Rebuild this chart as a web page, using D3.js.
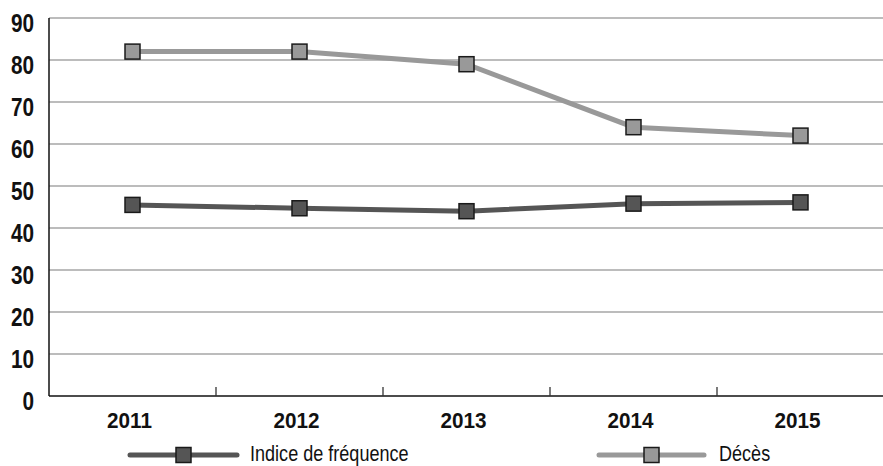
<!DOCTYPE html>
<html>
<head>
<meta charset="utf-8">
<script src="https://cdn.jsdelivr.net/npm/d3@7"></script>
<style>
  html, body { margin: 0; padding: 0; background: #fff; }
  svg { display: block; }
  text { font-family: "Liberation Sans", Arial, sans-serif; }
</style>
</head>
<body>
<svg id="chart" width="883" height="466"></svg>
<script>
const years = ["2011", "2012", "2013", "2014", "2015"];
const indiceFrequence = [45.5, 44.7, 44.0, 45.8, 46.1];
const deces = [82, 82, 79, 64, 62];
const yTicks = [0, 10, 20, 30, 40, 50, 60, 70, 80, 90];
const seriesNames = ["Indice de fréquence", "Décès"];
const seriesColors = ["#555555", "#999999"];

const svg = d3.select("#chart");
const W = 883;
const left = 49, plotRight = 884;

const x = d3.scaleBand().domain(years).range([left, plotRight]).paddingInner(0).paddingOuter(0);
const y = d3.scaleLinear().domain([0, 90]).range([396, 18]);

// condensed text: horizontally squeezed glyphs
function condensed(sel, sx) {
  return sel.attr("transform", function () {
    const px = +this.getAttribute("data-x"), py = +this.getAttribute("data-y");
    return `translate(${px},${py}) scale(${sx},1)`;
  });
}

// horizontal gridlines
svg.append("g")
  .selectAll("line")
  .data(yTicks.filter(d => d > 0))
  .join("line")
  .attr("x1", left).attr("x2", W)
  .attr("y1", d => y(d)).attr("y2", d => y(d))
  .attr("stroke", "#a6a6a6").attr("stroke-width", 1.3);

// y axis labels
svg.append("g")
  .selectAll("text")
  .data(yTicks)
  .join("text")
  .attr("data-x", 34)
  .attr("data-y", d => y(d) + 14)
  .attr("text-anchor", "end")
  .attr("font-weight", "bold")
  .attr("font-size", 25)
  .attr("fill", "#111")
  .text(d => d)
  .call(condensed, 0.83);

// axis lines
svg.append("line")
  .attr("x1", left).attr("x2", left)
  .attr("y1", y(90)).attr("y2", y(0))
  .attr("stroke", "#111").attr("stroke-width", 1.5);
svg.append("line")
  .attr("x1", left).attr("x2", W)
  .attr("y1", y(0)).attr("y2", y(0))
  .attr("stroke", "#111").attr("stroke-width", 1.5);

// category separator ticks
svg.append("g")
  .selectAll("line")
  .data(years.slice(1))
  .join("line")
  .attr("x1", d => x(d)).attr("x2", d => x(d))
  .attr("y1", y(0) - 9).attr("y2", y(0))
  .attr("stroke", "#333").attr("stroke-width", 1.3);

// x labels
svg.append("g")
  .selectAll("text")
  .data(years)
  .join("text")
  .attr("data-x", d => x(d) + x.bandwidth() / 2 - 3)
  .attr("data-y", 428)
  .attr("text-anchor", "middle")
  .attr("font-weight", "bold")
  .attr("font-size", 22.5)
  .attr("fill", "#111")
  .text(d => d)
  .call(condensed, 0.92);

const cx = d => x(d) + x.bandwidth() / 2;
const line = d3.line().x((d, i) => cx(years[i])).y(d => y(d));

[indiceFrequence, deces].forEach((vals, k) => {
  svg.append("path")
    .datum(vals)
    .attr("d", line)
    .attr("fill", "none")
    .attr("stroke", seriesColors[k])
    .attr("stroke-width", 5);
  svg.append("g")
    .selectAll("rect")
    .data(vals)
    .join("rect")
    .attr("x", (d, i) => cx(years[i]) - 7.5)
    .attr("y", d => y(d) - 7.5)
    .attr("width", 15).attr("height", 15)
    .attr("fill", seriesColors[k])
    .attr("stroke", "#1a1a1a").attr("stroke-width", 1.5);
});

// legend
const legendItems = [
  { x1: 130, x2: 237, text: 250 },
  { x1: 599, x2: 704, text: 719 }
];
legendItems.forEach((p, k) => {
  const g = svg.append("g");
  const ly = 455;
  g.append("line")
    .attr("x1", p.x1).attr("x2", p.x2)
    .attr("y1", ly).attr("y2", ly)
    .attr("stroke", seriesColors[k]).attr("stroke-width", 5)
    .attr("stroke-linecap", "round");
  const mx = (p.x1 + p.x2) / 2;
  g.append("rect")
    .attr("x", mx - 7.5).attr("y", ly - 7.5)
    .attr("width", 15).attr("height", 15)
    .attr("fill", seriesColors[k])
    .attr("stroke", "#1a1a1a").attr("stroke-width", 1.5);
  g.append("text")
    .attr("data-x", p.text).attr("data-y", 461)
    .attr("font-size", 21.5)
    .attr("fill", "#111")
    .text(seriesNames[k])
    .call(condensed, 0.84);
});
</script>
</body>
</html>
